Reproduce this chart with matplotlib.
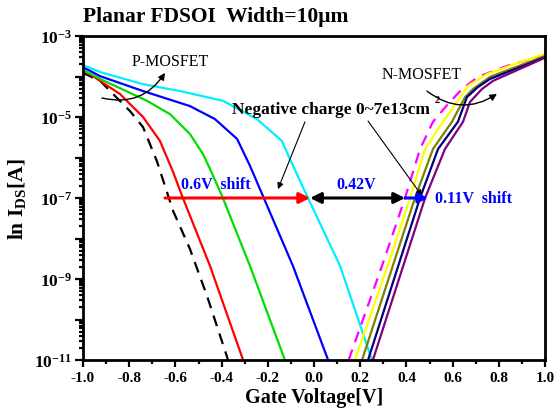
import matplotlib
matplotlib.use("Agg")
import matplotlib.pyplot as plt
from matplotlib.ticker import LogLocator, FuncFormatter, MultipleLocator, NullFormatter
import numpy as np

plt.rcParams['font.family'] = ['Liberation Serif', 'DejaVu Serif']
plt.rcParams['mathtext.fontset'] = 'custom'
plt.rcParams['mathtext.rm'] = 'Liberation Serif:bold'
plt.rcParams['mathtext.bf'] = 'Liberation Serif:bold'
plt.rcParams['mathtext.it'] = 'Liberation Serif:bold:italic'
plt.rcParams['axes.unicode_minus'] = False

# ---------------- data ----------------
# P-MOSFET curves
p_ref_v = [-1.0, -0.926, -0.870, -0.797, -0.740, -0.680, -0.610, -0.537, -0.463, -0.372]
p_ref_i = [1.23e-4, 7.8e-5, 3.7e-5, 1.41e-5, 5.6e-6, 8.1e-7, 4.8e-8, 5.5e-9, 3.8e-10, 1e-11]

p_red_v = [-1.0, -0.957, -0.840, -0.740, -0.667, -0.610, -0.571, -0.450, -0.307]
p_red_i = [1.38e-4, 1.02e-4, 3.7e-5, 1.0e-5, 2.57e-6, 4.4e-7, 1.12e-7, 2.09e-9, 1e-11]

p_green_v = [-1.0, -0.926, -0.723, -0.623, -0.537, -0.481, -0.450, -0.398, -0.277, -0.126]
p_green_i = [1.45e-4, 8.7e-5, 2.51e-5, 1.17e-5, 3.8e-6, 1.23e-6, 5.2e-7, 1.12e-7, 2.09e-9, 1e-11]

p_blue_v = [-1.0, -0.926, -0.740, -0.537, -0.429, -0.333, -0.277, -0.221, -0.091, 0.061]
p_blue_i = [1.70e-4, 1.02e-4, 4.37e-5, 1.86e-5, 8.9e-6, 2.88e-6, 6.2e-7, 1.12e-7, 2.09e-9, 1e-11]

p_cyan_v = [-1.0, -0.926, -0.740, -0.580, -0.394, -0.247, -0.139, -0.104, -0.030, 0.113, 0.251]
p_cyan_i = [1.91e-4, 1.29e-4, 6.46e-5, 4.37e-5, 2.51e-5, 8.9e-6, 2.57e-6, 9.1e-7, 1.12e-7, 2.09e-9, 1e-11]

# N-MOSFET curves
n_ref_v = [0.150, 0.294, 0.394, 0.459, 0.515, 0.580, 0.641, 0.710, 0.835, 1.0]
n_ref_i = [1e-11, 2.09e-9, 1.0e-7, 1.62e-6, 7.6e-6, 2.09e-5, 4.9e-5, 9.8e-5, 1.82e-4, 3.4e-4]

n_yellow_v = [0.177, 0.329, 0.416, 0.481, 0.558, 0.619, 0.667, 0.749, 0.905, 1.0]
n_yellow_i = [1e-11, 3.1e-9, 1.0e-7, 1.62e-6, 7.6e-6, 2.34e-5, 5.9e-5, 1.15e-4, 2.4e-4, 3.6e-4]

n_olive_v = [0.208, 0.437, 0.515, 0.597, 0.654, 0.688, 0.762, 1.0]
n_olive_i = [1e-11, 1.0e-7, 1.62e-6, 7.6e-6, 3.1e-5, 4.9e-5, 9.8e-5, 3.2e-4]

n_navy_v = [0.234, 0.459, 0.537, 0.623, 0.662, 0.710, 0.762, 1.0]
n_navy_i = [1e-11, 1.0e-7, 1.62e-6, 7.6e-6, 3.1e-5, 5.5e-5, 8.7e-5, 3.0e-4]

n_purple_v = [0.255, 0.481, 0.567, 0.645, 0.675, 0.727, 0.775, 1.0]
n_purple_i = [1e-11, 1.0e-7, 1.62e-6, 7.6e-6, 2.34e-5, 4.9e-5, 7.8e-5, 2.9e-4]

# shift markers at I = 1e-7
shift_level = 1e-7
red_shift = (-0.645, -0.017)
black_shift = (-0.017, 0.394)
blue_shift = (0.394, 0.494)

x_ticks = [-1.0, -0.8, -0.6, -0.4, -0.2, 0.0, 0.2, 0.4, 0.6, 0.8, 1.0]

# ---------------- figure ----------------
fig = plt.figure(figsize=(5.56, 4.14), dpi=100)
ax = fig.add_axes([83/556, 1-361/414, (545-83)/556, (361-37)/414])

lw = 1.6
ax.plot(p_ref_v, p_ref_i, color='black', lw=lw, ls=(0, (5, 3.5)))
ax.plot(p_red_v, p_red_i, color='#ff0000', lw=lw)
ax.plot(p_green_v, p_green_i, color='#00dd00', lw=lw)
ax.plot(p_blue_v, p_blue_i, color='#0000ff', lw=lw)
ax.plot(p_cyan_v, p_cyan_i, color='#00eeff', lw=lw)

ax.plot(n_ref_v, n_ref_i, color='#ff00ff', lw=lw, ls=(0, (5, 3.5)))
ax.plot(n_yellow_v, n_yellow_i, color='#ffff00', lw=lw)
ax.plot(n_olive_v, n_olive_i, color='#808000', lw=lw)
ax.plot(n_navy_v, n_navy_i, color='#000080', lw=lw)
ax.plot(n_purple_v, n_purple_i, color='#800080', lw=lw)

ax.set_xlim(-1.0, 1.0)
ax.set_yscale('log')
ax.set_ylim(1e-11, 1e-3)

ax.set_xticks(x_ticks)
ax.set_xticklabels(['%.1f' % v for v in x_ticks])
ax.xaxis.set_minor_locator(MultipleLocator(0.1))

ax.yaxis.set_major_locator(LogLocator(base=10, numticks=20))
def yfmt(val, pos):
    e = int(round(np.log10(val)))
    if e % 2 != 0:
        return r'$\mathbf{10^{%d}}$' % e
    return ''
ax.yaxis.set_major_formatter(FuncFormatter(yfmt))
ax.yaxis.set_minor_locator(LogLocator(base=10, subs=np.arange(2, 10), numticks=20))
ax.yaxis.set_minor_formatter(NullFormatter())

for s in ax.spines.values():
    s.set_linewidth(2.0)

ax.tick_params(axis='both', which='both', direction='out', top=False, right=False, width=1.6)
ax.tick_params(axis='x', which='major', length=5, pad=3, labelsize=11)
ax.tick_params(axis='x', which='minor', length=3)
ax.tick_params(axis='y', which='major', length=6, pad=2, labelsize=12.5)
ax.tick_params(axis='y', which='minor', length=3)
for lab in ax.get_xticklabels():
    lab.set_fontweight('bold')

ax.set_xlabel('Gate Voltage[V]', fontsize=14.5, fontweight='bold', labelpad=2)
ax.set_ylabel(r'ln I$_{\mathbf{DS}}$[A]', fontsize=15.5, fontweight='bold', labelpad=4)

fig.text(83/556, 1-17/414, 'Planar FDSOI  Width=10\u03bcm', fontsize=15.5, fontweight='bold',
         ha='left', va='center')

# ---- annotations ----
ax.text(-0.623, 10**-3.62, 'P-MOSFET', fontsize=11.5, ha='center', va='center')
ax.annotate('', xy=(-0.645, 10**-3.91), xytext=(-0.918, 10**-4.53),
            arrowprops=dict(arrowstyle='-|>', color='black', lw=1.0, mutation_scale=10,
                            connectionstyle='arc3,rad=0.35', shrinkA=0, shrinkB=0))

ax.text(0.468, 10**-3.94, 'N-MOSFET', fontsize=11.5, ha='center', va='center')
ax.annotate('', xy=(0.792, 10**-4.43), xytext=(0.489, 10**-4.36),
            arrowprops=dict(arrowstyle='-|>', color='black', lw=1.0, mutation_scale=10,
                            connectionstyle='arc3,rad=0.35', shrinkA=0, shrinkB=0))

ax.text(-0.355, 10**-4.80, 'Negative charge 0~7e13cm', fontsize=12.5,
        fontweight='bold', ha='left', va='center')
ax.text(0.523, 10**-4.56, '2', fontsize=7.5, fontweight='bold', color='black',
        ha='left', va='center', zorder=10)
ax.annotate('', xy=(-0.156, 10**-6.78), xytext=(-0.039, 10**-5.12),
            arrowprops=dict(arrowstyle='-|>', color='black', lw=0.8, mutation_scale=9,
                            shrinkA=0, shrinkB=0))
ax.annotate('', xy=(0.468, 10**-6.95), xytext=(0.234, 10**-5.10),
            arrowprops=dict(arrowstyle='-|>', color='black', lw=0.8, mutation_scale=9,
                            shrinkA=0, shrinkB=0))

ax.annotate('', xy=(red_shift[1], shift_level), xytext=(red_shift[0], shift_level),
            arrowprops=dict(arrowstyle='-|>', color='#ff0000', lw=2.2, mutation_scale=16,
                            shrinkA=0, shrinkB=0))
ax.annotate('', xy=(black_shift[1], shift_level), xytext=(black_shift[0], shift_level),
            arrowprops=dict(arrowstyle='<|-|>', color='black', lw=2.2, mutation_scale=16,
                            shrinkA=0, shrinkB=0))
ax.annotate('', xy=(blue_shift[1], shift_level), xytext=(blue_shift[0], shift_level),
            arrowprops=dict(arrowstyle='-|>', color='#0000ff', lw=2.2, mutation_scale=14,
                            shrinkA=0, shrinkB=0))

ax.text(-0.424, 10**-6.65, '0.6V  shift', fontsize=11.5, fontweight='bold', color='#0000ff',
        ha='center', va='center')
ax.text(0.182, 10**-6.65, '0.42V', fontsize=11.5, fontweight='bold', color='#0000ff',
        ha='center', va='center')
ax.text(0.524, 10**-7.0, '0.11V  shift', fontsize=11.5, fontweight='bold', color='#0000ff',
        ha='left', va='center')

fig.savefig('out.png', dpi=100)
